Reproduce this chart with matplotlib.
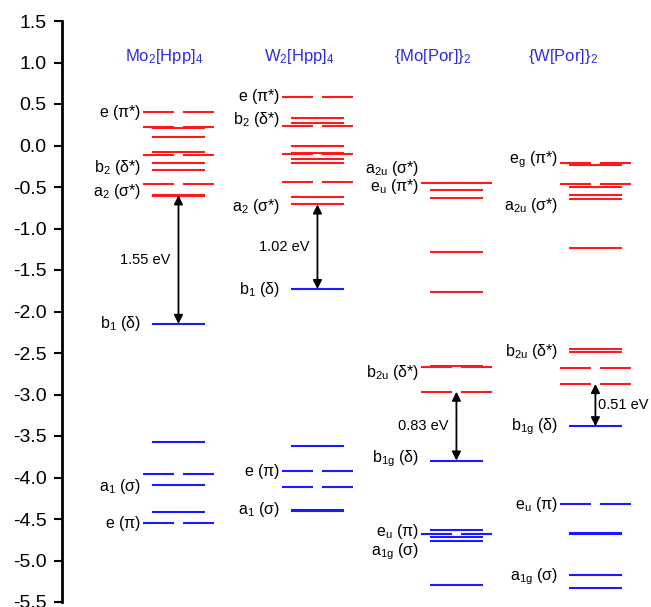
import matplotlib
matplotlib.use('Agg')
import matplotlib.pyplot as plt

plt.rcParams['font.family'] = ['Liberation Sans', 'DejaVu Sans']
plt.rcParams['mathtext.fontset'] = 'custom'
plt.rcParams['mathtext.rm'] = 'Liberation Sans'
plt.rcParams['mathtext.it'] = 'Liberation Sans'

RED = '#ff1a1a'
BLUE = '#1a1aff'
TITLE_BLUE = '#2b2bf0'

# compounds (column order)
titles = ['Mo$_2$[Hpp]$_4$', 'W$_2$[Hpp]$_4$', '{Mo[Por]}$_2$', '{W[Por]}$_2$']

# orbital energies (eV): non-degenerate levels and degenerate pairs
mo_hpp_single = [0.21, 0.10, -0.075, -0.215, -0.295, -0.60, -0.61, -2.15, -3.576, -4.094, -4.42]
mo_hpp_pair = [0.40, 0.227, -0.115, -0.46, -3.958, -4.548]
w_hpp_single = [0.33, 0.27, -0.01, -0.09, -0.166, -0.215, -0.624, -0.71, -1.73, -3.617, -4.39, -4.40]
w_hpp_pair = [0.58, 0.24, -0.10, -0.436, -3.922, -4.11]
mo_por_single = [-0.45, -0.536, -0.636, -1.287, -1.76, -2.66, -3.796, -4.633, -4.72, -4.77, -5.295]
mo_por_pair = [-0.456, -2.665, -2.966, -4.68]
w_por_single = [-0.235, -0.496, -0.60, -0.64, -1.23, -2.45, -2.49, -3.383, -4.67, -4.68, -5.175, -5.335]
w_por_pair = [-0.215, -0.464, -2.677, -2.873, -4.323]

# frontier levels (LUMO, HOMO) and gap labels
lumo = [-0.60, -0.71, -2.966, -2.873]
homo = [-2.15, -1.73, -3.796, -3.383]
gap_labels = ['1.55 eV', '1.02 eV', '0.83 eV', '0.51 eV']

# orbital symmetry labels: (text, energy)
mo_hpp_labels = [(r'e ($\pi$*)', 0.40), (r'b$_2$ ($\delta$*)', -0.26), (r'a$_2$ ($\sigma$*)', -0.55),
                 (r'b$_1$ ($\delta$)', -2.15), (r'a$_1$ ($\sigma$)', -4.11), (r'e ($\pi$)', -4.56)]
w_hpp_labels = [(r'e ($\pi$*)', 0.59), (r'b$_2$ ($\delta$*)', 0.31), (r'a$_2$ ($\sigma$*)', -0.73),
                (r'b$_1$ ($\delta$)', -1.74), (r'e ($\pi$)', -3.93), (r'a$_1$ ($\sigma$)', -4.39)]
mo_por_labels = [(r'a$_{2u}$ ($\sigma$*)', -0.275), (r'e$_u$ ($\pi$*)', -0.50), (r'b$_{2u}$ ($\delta$*)', -2.74),
                 (r'b$_{1g}$ ($\delta$)', -3.77), (r'e$_u$ ($\pi$)', -4.65), (r'a$_{1g}$ ($\sigma$)', -4.89)]
w_por_labels = [(r'e$_g$ ($\pi$*)', -0.175), (r'a$_{2u}$ ($\sigma$*)', -0.72), (r'b$_{2u}$ ($\delta$*)', -2.48),
                (r'b$_{1g}$ ($\delta$)', -3.39), (r'e$_u$ ($\pi$)', -4.32), (r'a$_{1g}$ ($\sigma$)', -5.195)]

singles = [mo_hpp_single, w_hpp_single, mo_por_single, w_por_single]
pairs = [mo_hpp_pair, w_hpp_pair, mo_por_pair, w_por_pair]
labels = [mo_hpp_labels, w_hpp_labels, mo_por_labels, w_por_labels]

# layout
HALF = 0.19        # half width of a single level
OUTER = 0.255      # outer half width of a degenerate pair
GAP = 0.032        # half gap between pair segments
title_x = [0.90, 1.87, 2.83, 3.77]
gap_side = ['left', 'left', 'left', 'right']

fig = plt.figure(figsize=(6.51, 6.07), dpi=100)
ax = fig.add_axes([62 / 651, 5 / 607, 1 - 62 / 651, 581 / 607])

for i in range(4):
    c = i + 1
    for e in singles[i]:
        col = RED if e >= lumo[i] - 0.01 else BLUE
        ax.hlines(e, c - HALF, c + HALF, color=col, lw=1.5)
    for e in pairs[i]:
        col = RED if e >= lumo[i] - 0.01 else BLUE
        ax.hlines(e, c - OUTER, c - GAP, color=col, lw=1.5)
        ax.hlines(e, c + GAP, c + OUTER, color=col, lw=1.5)
    for txt, e in labels[i]:
        ax.text(c - 0.27, e, txt, ha='right', va='center', fontsize=11.5)
    ax.annotate('', xy=(c, homo[i]), xytext=(c, lumo[i]),
                arrowprops=dict(arrowstyle='<|-|>', color='black', lw=1.3,
                                mutation_scale=13, shrinkA=0, shrinkB=0))
    mid = (lumo[i] + homo[i]) / 2
    if gap_side[i] == 'left':
        ax.text(c - 0.06, mid, gap_labels[i], ha='right', va='center', fontsize=10.5)
    else:
        ax.text(c + 0.02, mid, gap_labels[i], ha='left', va='center', fontsize=10.5)
    ax.text(title_x[i], 1.07, titles[i], ha='center', va='center', fontsize=12, color=TITLE_BLUE)

ax.set_ylim(-5.5, 1.5)
ax.set_xlim(0.162, 4.40)
ax.set_yticks([1.5 - 0.5 * k for k in range(15)])
ax.set_yticklabels(['%.1f' % (1.5 - 0.5 * k) for k in range(15)], fontsize=14)
ax.tick_params(axis='y', direction='out', length=6, width=1.5, pad=5)
ax.set_xticks([])
for s in ['top', 'right', 'bottom']:
    ax.spines[s].set_visible(False)
ax.spines['left'].set_linewidth(2)
ax.spines['left'].set_bounds(-5.5, 1.5)

fig.savefig('out.png', dpi=100)
